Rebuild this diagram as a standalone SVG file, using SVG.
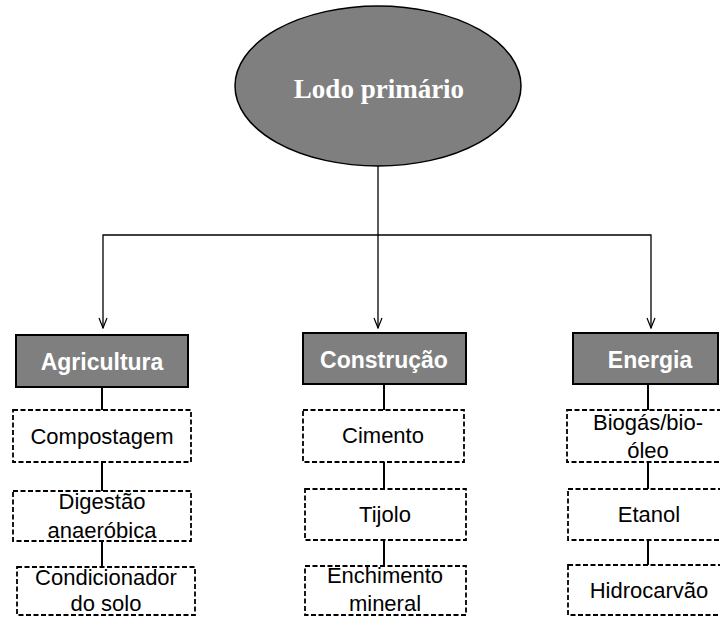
<svg xmlns="http://www.w3.org/2000/svg" width="720" height="617" viewBox="0 0 720 617">
<defs>
<style>
.hdr{fill:#7f7f7f;stroke:#000;stroke-width:2}
.htxt{font-family:"Liberation Sans",Arial,sans-serif;font-weight:bold;font-size:23px;fill:#fff;text-anchor:middle}
.dbox{fill:#fff;stroke:#000;stroke-width:1.8;stroke-dasharray:5 2.5}
.txt{font-family:"Liberation Sans",Arial,sans-serif;font-size:22px;fill:#000;text-anchor:middle}
.ln{stroke:#000;stroke-width:1.3;fill:none}
.sub{stroke:#000;stroke-width:2;fill:none}
</style>
<marker id="arr" viewBox="0 0 12 10" refX="11" refY="5" markerWidth="12" markerHeight="10" markerUnits="userSpaceOnUse" orient="auto">
<path d="M1,1 L11,5 L1,9" fill="none" stroke="#000" stroke-width="1.2"/>
</marker>
</defs>
<rect width="720" height="617" fill="#fff"/>
<g id="connectors">
<line class="ln" x1="378" y1="166" x2="378" y2="328" marker-end="url(#arr)"/>
<polyline class="ln" points="378,235 103,235 103,328" marker-end="url(#arr)"/>
<polyline class="ln" points="378,235 651,235 651,328" stroke="#444" marker-end="url(#arr)"/>
<line class="sub" x1="102" y1="387" x2="102" y2="410"/>
<line class="sub" x1="102" y1="462" x2="102" y2="491"/>
<line class="sub" x1="102" y1="541" x2="102" y2="567"/>
<line class="sub" x1="384" y1="384" x2="384" y2="410"/>
<line class="sub" x1="384" y1="462" x2="384" y2="489"/>
<line class="sub" x1="384" y1="540" x2="384" y2="566"/>
<line class="sub" x1="648" y1="384" x2="648" y2="410"/>
<line class="sub" x1="648" y1="462" x2="648" y2="489"/>
<line class="sub" x1="648" y1="540" x2="648" y2="565"/>
</g>
<g id="root">
<ellipse cx="378" cy="86" rx="143" ry="80" fill="#7f7f7f" stroke="#000" stroke-width="1.5"/>
<text x="379" y="98" font-family="'Liberation Serif','Times New Roman',serif" font-weight="bold" font-size="27" fill="#fff" text-anchor="middle">Lodo primário</text>
</g>
<g id="agricultura">
<rect class="hdr" x="16" y="335" width="172" height="52"/>
<text class="htxt" x="102" y="370">Agricultura</text>
</g>
<g id="compostagem">
<rect class="dbox" x="13" y="410" width="178" height="52"/>
<text class="txt" x="102" y="444">Compostagem</text>
</g>
<g id="digestao">
<rect class="dbox" x="13" y="491" width="178" height="50"/>
<text class="txt" x="102" y="509">Digestão</text>
<text class="txt" x="102" y="538">anaeróbica</text>
</g>
<g id="condicionador">
<rect class="dbox" x="17" y="567" width="178" height="48"/>
<text class="txt" x="106" y="585">Condicionador</text>
<text class="txt" x="106" y="611">do solo</text>
</g>
<g id="construcao">
<rect class="hdr" x="303" y="333" width="163" height="51"/>
<text class="htxt" x="384" y="368">Construção</text>
</g>
<g id="cimento">
<rect class="dbox" x="303" y="410" width="161" height="52"/>
<text class="txt" x="383" y="443">Cimento</text>
</g>
<g id="tijolo">
<rect class="dbox" x="305" y="489" width="161" height="51"/>
<text class="txt" x="385" y="522">Tijolo</text>
</g>
<g id="enchimento">
<rect class="dbox" x="305" y="566" width="161" height="49"/>
<text class="txt" x="385" y="583">Enchimento</text>
<text class="txt" x="385" y="611">mineral</text>
</g>
<g id="energia">
<rect class="hdr" x="573" y="333" width="145" height="51"/>
<text class="htxt" x="650" y="368">Energia</text>
</g>
<g id="biogas">
<rect class="dbox" x="567" y="410" width="170" height="52"/>
<text class="txt" x="648" y="430">Biogás/bio-</text>
<text class="txt" x="648" y="458">óleo</text>
</g>
<g id="etanol">
<rect class="dbox" x="568" y="489" width="170" height="51"/>
<text class="txt" x="649" y="522">Etanol</text>
</g>
<g id="hidrocarvao">
<rect class="dbox" x="568" y="565" width="170" height="50"/>
<text class="txt" x="649" y="598">Hidrocarvão</text>
</g>
</svg>
